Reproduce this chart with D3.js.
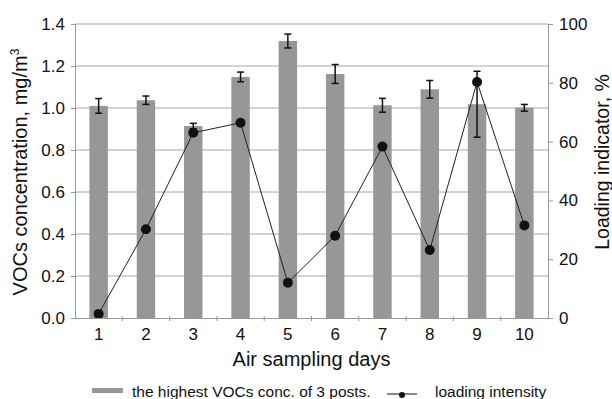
<!DOCTYPE html>
<html>
<head>
<meta charset="utf-8">
<script src="https://cdn.jsdelivr.net/npm/d3@7"></script>
<style>
  body { margin: 0; background: #fff; }
  text { font-family: "Liberation Sans", Arial, sans-serif; fill: #111; }
</style>
</head>
<body>
<div id="chart"></div>
<script>
// data
const days = [1, 2, 3, 4, 5, 6, 7, 8, 9, 10];
const vocConc = [1.01, 1.037, 0.914, 1.148, 1.319, 1.162, 1.013, 1.089, 1.018, 1.001];
const vocErr = [0.035, 0.02, 0.013, 0.023, 0.033, 0.045, 0.033, 0.042, 0.157, 0.016];
const loading = [1.4, 30.2, 63.0, 66.4, 12.0, 28.0, 58.3, 23.1, 80.3, 31.5];
const leftTicks = [0, 0.2, 0.4, 0.6, 0.8, 1.0, 1.2, 1.4];
const rightTicks = [0, 20, 40, 60, 80, 100];

const W = 612, H = 399;
const m = { left: 75, right: 64, top: 24, bottom: 81 };
const innerW = W - m.left - m.right;
const innerH = H - m.top - m.bottom;

const svg = d3.select("#chart").append("svg")
  .attr("width", W).attr("height", H);
const g = svg.append("g").attr("transform", `translate(${m.left},${m.top})`);

const x = d3.scaleBand().domain(days).range([0, innerW]);
const yL = d3.scaleLinear().domain([0, 1.4]).range([innerH, 0]);
const yR = d3.scaleLinear().domain([0, 100]).range([innerH, 0]);

// grid lines
g.append("g").selectAll("line")
  .data(leftTicks.slice(1))
  .join("line")
  .attr("x1", 0).attr("x2", innerW)
  .attr("y1", d => yL(d)).attr("y2", d => yL(d))
  .attr("stroke", "#a8a8a8").attr("stroke-width", 1);

// bars
const barW = x.bandwidth() * 0.39;
g.append("g").selectAll("rect")
  .data(days)
  .join("rect")
  .attr("x", (d) => x(d) + x.bandwidth() / 2 - barW / 2)
  .attr("width", barW)
  .attr("y", (d, i) => yL(vocConc[i]))
  .attr("height", (d, i) => innerH - yL(vocConc[i]))
  .attr("fill", "#979797");

// error bars
const eb = g.append("g").attr("stroke", "#111").attr("stroke-width", 1.5);
days.forEach((d, i) => {
  const cx = x(d) + x.bandwidth() / 2;
  const top = yL(vocConc[i] + vocErr[i]), bot = yL(vocConc[i] - vocErr[i]);
  eb.append("line").attr("x1", cx).attr("x2", cx).attr("y1", top).attr("y2", bot);
  eb.append("line").attr("x1", cx - 3.5).attr("x2", cx + 3.5).attr("y1", top).attr("y2", top);
  eb.append("line").attr("x1", cx - 3.5).attr("x2", cx + 3.5).attr("y1", bot).attr("y2", bot);
});

// line series on right axis
const line = d3.line()
  .x((d, i) => x(days[i]) + x.bandwidth() / 2)
  .y(d => yR(d));
g.append("path")
  .datum(loading)
  .attr("d", line)
  .attr("fill", "none")
  .attr("stroke", "#222")
  .attr("stroke-width", 1);
g.append("g").selectAll("circle")
  .data(loading)
  .join("circle")
  .attr("cx", (d, i) => x(days[i]) + x.bandwidth() / 2)
  .attr("cy", d => yR(d))
  .attr("r", 5)
  .attr("fill", "#111");

// axes
function styleAxis(sel) {
  sel.select(".domain").attr("stroke", "#999");
  sel.selectAll(".tick line").attr("stroke", "#999");
  sel.selectAll(".tick text").attr("fill", "#111")
    .style("font-size", "17px").style("font-family", "Liberation Sans, Arial, sans-serif");
}

const gl = g.append("g")
  .call(d3.axisLeft(yL).tickValues(leftTicks).tickFormat(d3.format(".1f")).tickSizeOuter(0).tickSize(4).tickPadding(6));
styleAxis(gl);

const gr = g.append("g").attr("transform", `translate(${innerW},0)`)
  .call(d3.axisRight(yR).tickValues(rightTicks).tickSizeOuter(0).tickSize(5).tickPadding(6));
styleAxis(gr);

const gb = g.append("g").attr("transform", `translate(0,${innerH})`)
  .call(d3.axisBottom(x).tickSize(0).tickPadding(10));
styleAxis(gb);
// tick marks at band boundaries
gb.selectAll(".sep")
  .data(days.slice(1))
  .join("line")
  .attr("class", "sep")
  .attr("x1", d => x(d)).attr("x2", d => x(d))
  .attr("y1", -2).attr("y2", 3)
  .attr("stroke", "#999");

// axis titles
svg.append("text")
  .attr("x", m.left + innerW / 2).attr("y", 366)
  .attr("text-anchor", "middle")
  .style("font-size", "20px")
  .text("Air sampling days");

const lt = svg.append("text")
  .attr("transform", `translate(27,172) rotate(-90)`)
  .attr("text-anchor", "middle")
  .style("font-size", "20px");
lt.append("tspan").text("VOCs concentration, mg/m");
lt.append("tspan").attr("dy", -8).style("font-size", "12px").text("3");

svg.append("text")
  .attr("transform", `translate(609,162) rotate(-90)`)
  .attr("text-anchor", "middle")
  .style("font-size", "19.5px")
  .text("Loading indicator, %");

// legend
const lg = svg.append("g");
lg.append("rect").attr("x", 92).attr("y", 388).attr("width", 31).attr("height", 5).attr("fill", "#979797");
lg.append("text").attr("x", 132).attr("y", 397).style("font-size", "15.5px")
  .text("the highest VOCs conc. of 3 posts.");
lg.append("line").attr("x1", 387).attr("x2", 417).attr("y1", 394).attr("y2", 394)
  .attr("stroke", "#111").attr("stroke-width", 1);
lg.append("circle").attr("cx", 402).attr("cy", 395).attr("r", 3).attr("fill", "#111");
lg.append("text").attr("x", 435).attr("y", 397).style("font-size", "15.5px")
  .text("loading intensity");
</script>
</body>
</html>
